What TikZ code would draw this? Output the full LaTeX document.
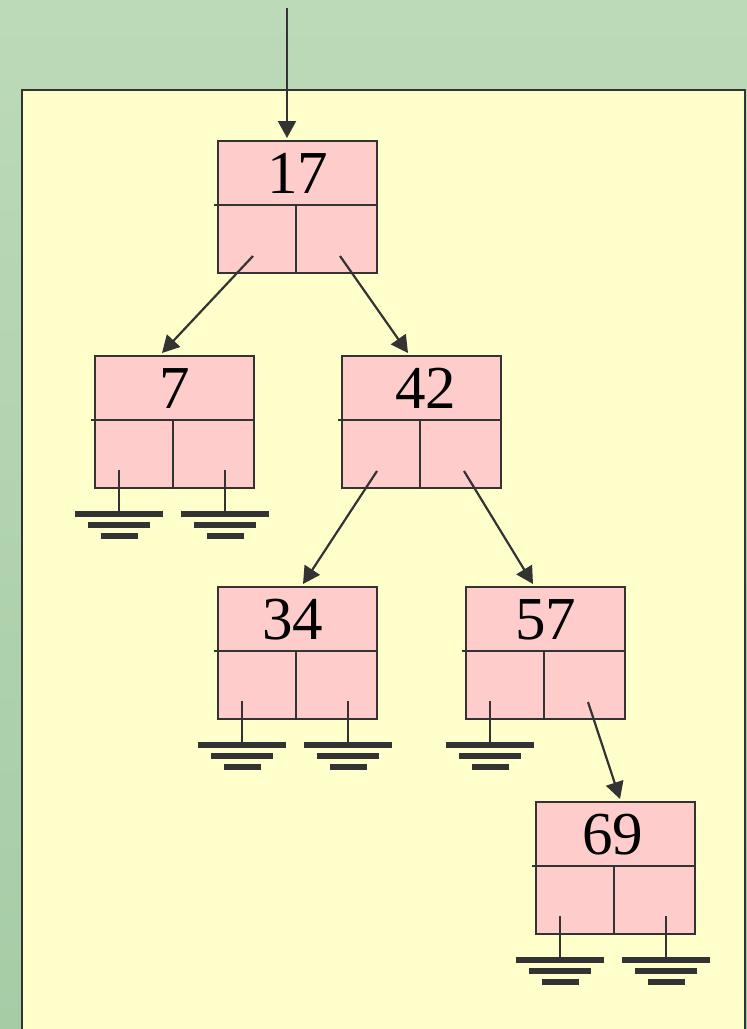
\documentclass[tikz,border=0pt]{standalone}
\usepackage{fontspec}
\setmainfont{Liberation Serif}
\usetikzlibrary{arrows.meta}
\definecolor{lineDark}{HTML}{333333}
\definecolor{panelFill}{HTML}{FFFFCC}
\definecolor{cellFill}{HTML}{FFCCCC}
\definecolor{bgGreen}{HTML}{A6CCA6}
\definecolor{bgLight}{HTML}{BCDAB8}

\tikzset{
  cellbox/.style={draw=lineDark, fill=cellFill, line width=2.6pt,
    minimum width=159pt, minimum height=132pt, anchor=north west,
    inner sep=0pt, outer sep=0pt},
  keytext/.style={font=\fontsize{61}{61}\selectfont, anchor=base, inner sep=0pt},
  ptr/.style={draw=lineDark, line width=2.2pt, -{Triangle[width=18pt,length=17pt]}},
  ground/.pic={
    \draw[lineDark, line width=2.4pt] (0,0) -- (0,44);
    \fill[lineDark] (-44,41) rectangle (44,47);
    \fill[lineDark] (-31,52) rectangle (31,58);
    \fill[lineDark] (-18.5,63) rectangle (18.5,69);
  }
}

\begin{document}
\begin{tikzpicture}[x=1pt, y=-1pt]

    \useasboundingbox (0,0) rectangle (747,1029);

    % background and panel
    \shade[top color=bgLight, bottom color=bgGreen] (0,0) rectangle (747,1029);
    \draw[lineDark, fill=panelFill, line width=2.2pt] (22,90) rectangle (745,1040);

    % tree nodes: key on top, two pointer cells below
    \foreach \name/\bx/\by/\val/\kx in {n17/218/141/17/0, n7/95/356/7/0, n42/342/356/42/4,
                                     n34/218/587/34/-5, n57/466/587/57/0, n69/536/802/69/-3} {
        \node[cellbox] (\name) at (\bx,\by) {};
        \draw[lineDark, line width=2.6pt] ({\bx-4},{\by+64}) -- ({\bx+159},{\by+64});
        \draw[lineDark, line width=2.6pt] ({\bx+78},{\by+64}) -- ({\bx+78},{\by+131});
        \node[keytext] (\name-key) at ({\bx+79.5+\kx},{\by+52}) {\val};
        \coordinate (\name-l) at ({\bx+35},{\by+115});
        \coordinate (\name-r) at ({\bx+122},{\by+115});
        \coordinate (\name-gl) at ({\bx+24},{\by+114});
        \coordinate (\name-gr) at ({\bx+130},{\by+114});
    }

    % root pointer
    \coordinate (root) at (287,8);
    \draw[ptr] (root) -- ([xshift=69pt, yshift=3pt]n17.north west);

    % child pointers
    \foreach \from/\to/\dx in {n17-l/n7/67, n17-r/n42/66, n42-l/n34/85,
                               n42-r/n57/67, n57-r/n69/84} {
        \draw[ptr] (\from) -- ([xshift=\dx pt, yshift=3pt]\to.north west);
    }

    % null pointers
    \foreach \g in {n7-gl, n7-gr, n34-gl, n34-gr, n57-gl, n69-gl, n69-gr} {
        \pic at (\g) {ground};
    }

\end{tikzpicture}
\end{document}
